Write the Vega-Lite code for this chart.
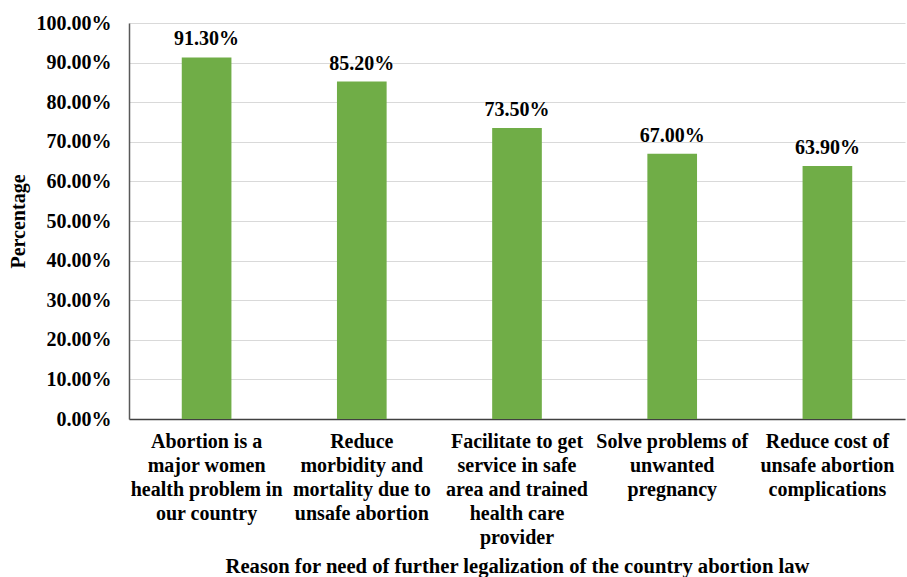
{
  "$schema": "https://vega.github.io/schema/vega-lite/v6.json",
  "width": 776,
  "height": 396,
  "autosize": {"type": "none"},
  "padding": {"left": 129, "top": 23, "right": 2, "bottom": 158},
  "background": "white",
  "config": {
    "view": {"stroke": null},
    "font": "'Liberation Serif', 'DejaVu Serif', serif"
  },
  "data": {
    "values": [
      {"reason": "Abortion is a|major women|health problem in|our country", "pct": 91.3},
      {"reason": "Reduce|morbidity and|mortality due to|unsafe abortion", "pct": 85.2},
      {"reason": "Facilitate to get|service in safe|area and trained|health care|provider", "pct": 73.5},
      {"reason": "Solve problems of|unwanted|pregnancy", "pct": 67.0},
      {"reason": "Reduce cost of|unsafe abortion|complications", "pct": 63.9}
    ]
  },
  "encoding": {
    "x": {
      "field": "reason",
      "type": "nominal",
      "sort": null,
      "scale": {"paddingInner": 0.68, "paddingOuter": 0.34},
      "axis": {
        "title": "Reason for need of further legalization of the country abortion law",
        "titleFont": "'Liberation Serif', 'DejaVu Serif', serif",
        "titleFontSize": 20.6,
        "titleFontWeight": "bold",
        "titleColor": "black",
        "titleBaseline": "middle",
        "titleY": 147,
        "labelExpr": "split(datum.label, '|')",
        "labelAngle": 0,
        "labelFont": "'Liberation Serif', 'DejaVu Serif', serif",
        "labelFontSize": 20,
        "labelFontWeight": "bold",
        "labelColor": "black",
        "labelLineHeight": 24,
        "labelPadding": 12,
        "labelLimit": 0,
        "labelOverlap": false,
        "ticks": false,
        "domainColor": "#404040",
        "domainWidth": 1.5
      }
    },
    "y": {
      "field": "pct",
      "type": "quantitative",
      "scale": {"domain": [0, 100], "nice": false},
      "axis": {
        "title": "Percentage",
        "titleFont": "'Liberation Serif', 'DejaVu Serif', serif",
        "titleFontSize": 20,
        "titleFontWeight": "bold",
        "titleColor": "black",
        "titleX": -111,
        "titleBaseline": "middle",
        "values": [0, 10, 20, 30, 40, 50, 60, 70, 80, 90, 100],
        "labelExpr": "format(datum.value, '.2f') + '%'",
        "labelFont": "'Liberation Serif', 'DejaVu Serif', serif",
        "labelFontSize": 20,
        "labelFontWeight": "bold",
        "labelColor": "black",
        "labelPadding": 18,
        "labelOverlap": false,
        "ticks": false,
        "domainColor": "#595959",
        "domainWidth": 1.5,
        "grid": true,
        "gridColor": "#d9d9d9",
        "gridWidth": 1.2
      }
    }
  },
  "layer": [
    {
      "mark": {"type": "bar", "color": "#70AD47"}
    },
    {
      "mark": {"type": "text", "baseline": "alphabetic", "dy": -12, "font": "'Liberation Serif', 'DejaVu Serif', serif", "fontSize": 20, "fontWeight": "bold", "color": "black"},
      "encoding": {
        "text": {"value": {"expr": "format(datum.pct, '.2f') + '%'"}}
      }
    }
  ]
}
